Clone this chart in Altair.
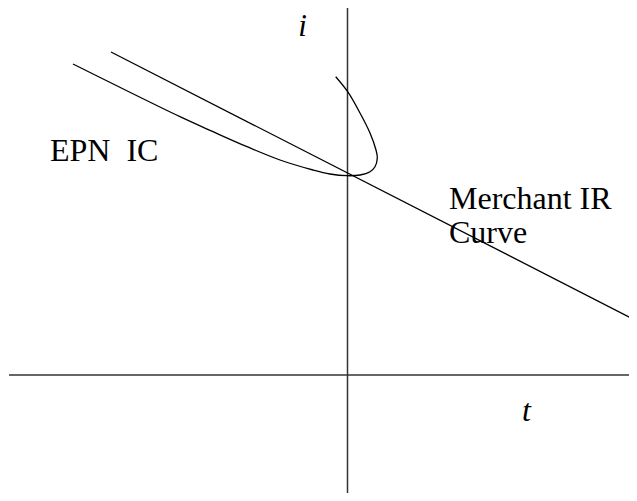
import altair as alt
import pandas as pd

# Coordinates in diagram units: t (horizontal), i (vertical), origin at the axes crossing
epn_t = [-274.5, -167.5, -134.5, -100.5, -67.5, -34.5, -17.5, -0.5, 12.5, 22.5, 27.5, 29.8, 28.5, 22.5, 12.5, 0.2, -11.8]
epn_i = [311, 258.3, 243.3, 228.3, 215, 205, 201, 199.3, 200, 203.3, 208.3, 217, 225, 242, 262, 283.3, 298.3]

merchant_t = [-236.5, 289.5]
merchant_i = [323, 54]

axis_t_range = [-338.5, 289.5]
axis_i_range = [-124, 373]

label_text = ["EPN\u00a0\u00a0IC", "Merchant IR", "Curve"]
label_t = [-297.5, 101.5, 101.5]
label_i = [214, 166, 132]

axis_label_text = ["i", "t"]
axis_label_t = [-45, 179]
axis_label_i = [339, -46]
axis_label_size = [31, 32]

T_DOMAIN = [-339.5, 281.5]
I_DOMAIN = [-118, 367]

SERIF = "'Liberation Serif', 'Times New Roman', Times, 'DejaVu Serif', serif"

xs = alt.Scale(domain=T_DOMAIN, nice=False, zero=False)
ys = alt.Scale(domain=I_DOMAIN, nice=False, zero=False)

epn = pd.DataFrame({"t": epn_t, "i": epn_i, "k": list(range(len(epn_t)))})
merchant = pd.DataFrame({"t": merchant_t, "i": merchant_i, "k": [0, 1]})
hax = pd.DataFrame({"t": [axis_t_range[0]], "t2": [axis_t_range[1]], "i": [0]})
vax = pd.DataFrame({"i": [axis_i_range[0]], "i2": [axis_i_range[1]], "t": [0]})
labels = pd.DataFrame({"t": label_t, "i": label_i, "txt": label_text})
axlabels = pd.DataFrame({"t": axis_label_t, "i": axis_label_i, "txt": axis_label_text,
                         "fs": axis_label_size})

X = lambda f: alt.X(f, type="quantitative", scale=xs, axis=None)
Y = lambda f: alt.Y(f, type="quantitative", scale=ys, axis=None)

h_axis = alt.Chart(hax).mark_rule(color="#333333", strokeWidth=1.5, clip=True).encode(
    x=X("t"), x2="t2", y=Y("i"))
v_axis = alt.Chart(vax).mark_rule(color="#333333", strokeWidth=1.5, clip=True).encode(
    y=Y("i"), y2="i2", x=X("t"))

epn_line = alt.Chart(epn).mark_line(color="black", strokeWidth=1.3, interpolate="catmull-rom",
                                    clip=True).encode(
    x=X("t"), y=Y("i"), order="k:Q")
merchant_line = alt.Chart(merchant).mark_line(color="black", strokeWidth=1.3, clip=True).encode(
    x=X("t"), y=Y("i"), order="k:Q")

text = alt.Chart(labels).mark_text(font=SERIF, fontSize=32, align="left",
                                   baseline="alphabetic", color="black").encode(
    x=X("t"), y=Y("i"), text="txt:N")
axtext = alt.Chart(axlabels).mark_text(font=SERIF, fontStyle="italic",
                                       align="center", baseline="alphabetic", color="black").encode(
    x=X("t"), y=Y("i"), text="txt:N",
    size=alt.Size("fs:Q", scale=None, legend=None))

chart = alt.layer(h_axis, v_axis, epn_line, merchant_line, text, axtext).properties(
    width=621, height=485, padding=0, background="white",
    autosize=alt.AutoSizeParams(type="none"),
).configure_view(strokeWidth=0)

chart.save("out.html", embed_options={"renderer": "svg", "actions": False})
